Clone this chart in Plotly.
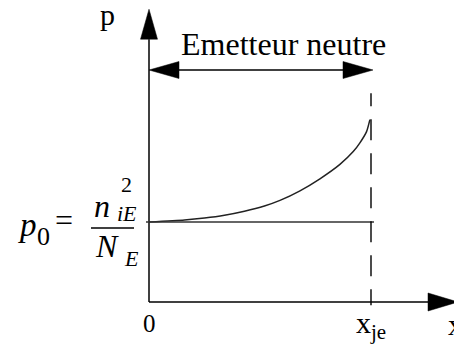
import plotly.graph_objects as go

# Excess hole profile in the neutral emitter, normalised: x / x_je and p / p0
x_pos = [0.0, 0.16, 0.25, 0.34, 0.43, 0.52, 0.59, 0.68, 0.77, 0.86, 0.92, 0.95, 0.98, 0.995]
p_vals = [1.00, 1.025, 1.05, 1.085, 1.135, 1.20, 1.27, 1.39, 1.54, 1.72, 1.88, 1.99, 2.13, 2.28]

x_je = 1.0          # edge of the neutral emitter
p_0 = 1.0           # equilibrium level n_iE^2 / N_E
x_axis_end = 1.392  # tip of the x-axis arrow
p_axis_end = 3.66   # tip of the p-axis arrow
span_level = 2.9    # height of the "Emetteur neutre" span arrow
dash_top = 2.61     # top of the dashed marker at x_je

W, H = 454, 345
# pixel scale of the axes (pixels per unit)
SX, SY = 222.0, 80.0
X_RANGE = [-149 / SX, (W - 149) / SX]
Y_RANGE = [(302 - H) / SY, 302 / SY]

FONT = "Liberation Serif"
INK = "black"


def arrow_head(tip_x, tip_y, dx, dy, length_px=30, half_px=8.5):
    """Filled triangular head pointing in direction (dx, dy) with its tip at (tip_x, tip_y)."""
    bx = tip_x - dx * length_px / SX
    by = tip_y - dy * length_px / SY
    # perpendicular in pixel space
    px_, py_ = -dy, dx
    ax_, ay_ = bx + px_ * half_px / SX, by + py_ * half_px / SY
    cx_, cy_ = bx - px_ * half_px / SX, by - py_ * half_px / SY
    return dict(type="path", xref="x", yref="y",
                path=f"M {tip_x},{tip_y} L {ax_},{ay_} L {cx_},{cy_} Z",
                fillcolor=INK, line=dict(color=INK, width=0.5))


def seg(x0, y0, x1, y1, width=1.5, color=INK, dash="solid"):
    return dict(type="line", xref="x", yref="y", x0=x0, y0=y0, x1=x1, y1=y1,
                line=dict(color=color, width=width, dash=dash))


fig = go.Figure()

fig.add_trace(go.Scatter(
    x=x_pos, y=p_vals, mode="lines",
    line=dict(color="#222", width=1.5, shape="spline", smoothing=0.6),
    hoverinfo="skip", showlegend=False,
))

head_len_p = 30 / SY
head_len_x = 30 / SX
dash_pattern = "13px,13px," + ",".join(["21px,13px"] * 6)

shapes = [
    # p axis
    seg(0, 0, 0, p_axis_end - head_len_p),
    arrow_head(0, p_axis_end, 0, 1, half_px=8.5),
    # x axis
    seg(0, 0, x_axis_end - head_len_x, 0),
    arrow_head(x_axis_end, 0, 1, 0, half_px=9),
    # equilibrium level p0
    seg(-3 / SX, p_0, x_je + 3 / SX, p_0, width=1.4, color="#333"),
    # dashed marker at x_je
    seg(x_je, dash_top, x_je, -0.04, width=1.4, dash=dash_pattern),
    # span of the neutral emitter
    seg(head_len_x, span_level, x_je + 2 / SX - head_len_x, span_level),
    arrow_head(0, span_level, -1, 0, half_px=8.5),
    arrow_head(x_je + 2 / SX, span_level, 1, 0, half_px=8.5),
]


def txt(text, px, py, size, italic=False, xanchor="center"):
    if italic:
        text = f"<i>{text}</i>"
    return dict(text=text, xref="paper", yref="paper", x=px / W, y=1 - py / H,
                xanchor=xanchor, yanchor="middle", showarrow=False,
                font=dict(family=FONT, size=size, color=INK))


annotations = [
    txt("Emetteur neutre", 179, 44, 32, xanchor="left"),
    txt("p", 107, 15, 30),
    txt("0", 149, 323, 25),
    txt("x<sub>je</sub>", 354, 325, 30, xanchor="left"),
    txt("x", 446, 324, 30, xanchor="left"),
    # p0 = n_iE^2 / N_E
    txt("p", 16, 225, 33, italic=True, xanchor="left"),
    txt("0", 35, 236, 26, xanchor="left"),
    txt("=", 53, 220, 32, xanchor="left"),
    txt("n", 92, 206, 32, italic=True, xanchor="left"),
    txt("iE", 115, 213, 22, italic=True, xanchor="left"),
    txt("2", 119, 184, 22, xanchor="left"),
    txt("N", 93, 246, 32, italic=True, xanchor="left"),
    txt("E", 122, 258, 22, italic=True, xanchor="left"),
]

# fraction bar
shapes.append(dict(type="line", xref="paper", yref="paper",
                   x0=91 / W, x1=134 / W, y0=1 - 228 / H, y1=1 - 228 / H,
                   line=dict(color=INK, width=1.3)))

fig.update_layout(
    width=W, height=H,
    margin=dict(l=0, r=0, t=0, b=0),
    paper_bgcolor="white", plot_bgcolor="white",
    font=dict(family=FONT),
    xaxis=dict(range=X_RANGE, visible=False, fixedrange=True),
    yaxis=dict(range=Y_RANGE, visible=False, fixedrange=True),
    shapes=shapes, annotations=annotations,
    showlegend=False,
)

fig.write_html("out.html")
